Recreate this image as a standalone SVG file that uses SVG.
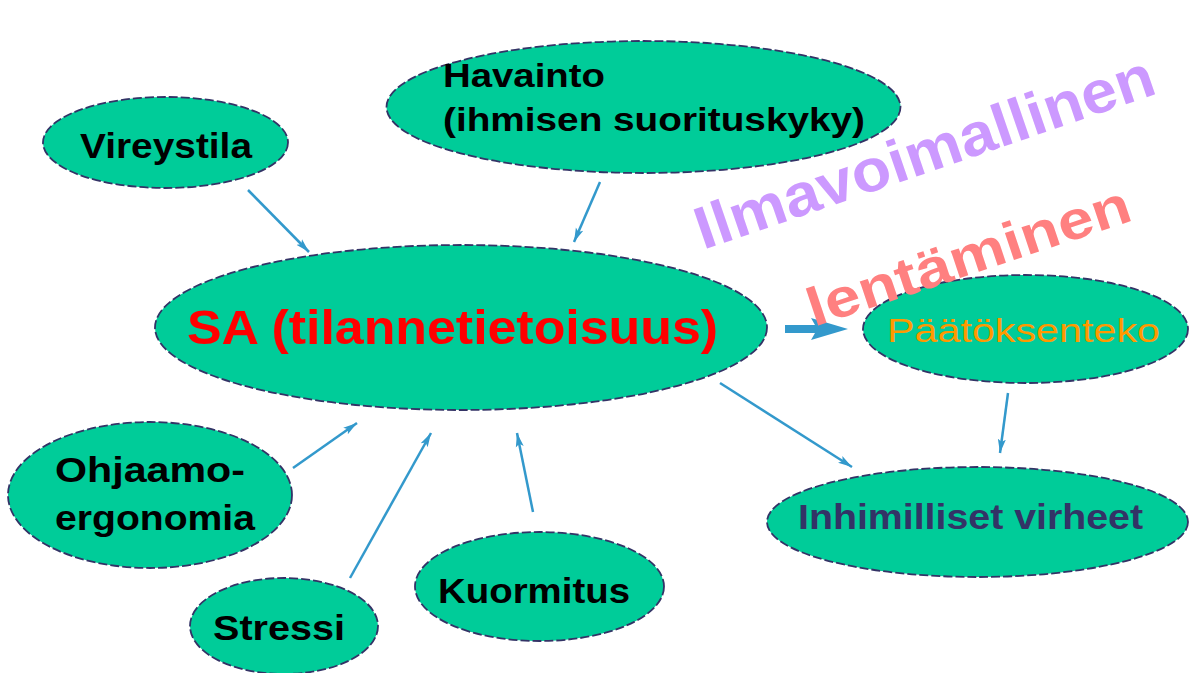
<svg xmlns="http://www.w3.org/2000/svg" width="1194" height="673" viewBox="0 0 1194 673">
<style>
.node ellipse{fill:#00cc99;stroke:#333366;stroke-width:1.8;stroke-dasharray:9 3}
.lbl{font-family:"Liberation Sans",Arial,sans-serif;font-weight:bold;fill:#000;font-size:34px}
.conn line{stroke:#3399cc;stroke-width:2.5;fill:none}
.wm{font-family:"Liberation Sans",Arial,sans-serif;font-weight:bold}
</style>
<defs>
<marker id="ah" markerUnits="userSpaceOnUse" markerWidth="16" markerHeight="10" refX="14" refY="5" orient="auto">
<path d="M0,1 L14,5 L0,9 L3,5 z" fill="#3399cc"/>
</marker>
</defs>
<rect width="1194" height="673" fill="#ffffff"/>
<g id="n-vireystila" class="node">
<ellipse cx="165.5" cy="142.5" rx="122.5" ry="45.5"/>
<text class="lbl" x="80" y="158" style="font-size:35px" textLength="172" lengthAdjust="spacingAndGlyphs">Vireystila</text>
</g>
<g id="n-havainto" class="node">
<ellipse cx="643.5" cy="107" rx="257" ry="66"/>
<text class="lbl" x="443" y="87" style="font-size:34px" textLength="162" lengthAdjust="spacingAndGlyphs">Havainto</text>
<text class="lbl" x="443" y="131" style="font-size:34px" textLength="422" lengthAdjust="spacingAndGlyphs">(ihmisen suorituskyky)</text>
</g>
<g id="n-sa" class="node">
<ellipse cx="461" cy="327.5" rx="306" ry="82.5"/>
<text class="lbl" x="187" y="344" style="font-size:49px;fill:#ff0000" textLength="531" lengthAdjust="spacingAndGlyphs">SA (tilannetietoisuus)</text>
</g>
<g id="n-paatoksenteko" class="node">
<ellipse cx="1025.5" cy="329" rx="162.5" ry="54"/>
<text class="lbl" x="887" y="342" style="font-size:34px;font-weight:normal;fill:#ff9900" textLength="273" lengthAdjust="spacingAndGlyphs">Päätöksenteko</text>
</g>
<g id="n-inhimilliset" class="node">
<ellipse cx="977.5" cy="522" rx="210.5" ry="55"/>
<text class="lbl" x="798" y="529" style="font-size:35px;fill:#333366" textLength="345" lengthAdjust="spacingAndGlyphs">Inhimilliset virheet</text>
</g>
<g id="n-ohjaamo" class="node">
<ellipse cx="150" cy="495" rx="142" ry="73"/>
<text class="lbl" x="55" y="482" style="font-size:35px" textLength="190" lengthAdjust="spacingAndGlyphs">Ohjaamo-</text>
<text class="lbl" x="55" y="530" style="font-size:35px" textLength="200" lengthAdjust="spacingAndGlyphs">ergonomia</text>
</g>
<g id="n-stressi" class="node">
<ellipse cx="284" cy="626" rx="94" ry="48"/>
<text class="lbl" x="213" y="640" style="font-size:35px" textLength="132" lengthAdjust="spacingAndGlyphs">Stressi</text>
</g>
<g id="n-kuormitus" class="node">
<ellipse cx="539.5" cy="586.5" rx="124.5" ry="54.5"/>
<text class="lbl" x="438" y="603" style="font-size:35px" textLength="192" lengthAdjust="spacingAndGlyphs">Kuormitus</text>
</g>
<g id="connectors" class="conn">
<line x1="248" y1="190" x2="309" y2="252" marker-end="url(#ah)"/>
<line x1="600" y1="182" x2="574" y2="242" marker-end="url(#ah)"/>
<line x1="720" y1="383" x2="852" y2="467" marker-end="url(#ah)"/>
<line x1="1008" y1="393" x2="1000" y2="453" marker-end="url(#ah)"/>
<line x1="293" y1="468" x2="357" y2="423" marker-end="url(#ah)"/>
<line x1="350" y1="578" x2="431" y2="433" marker-end="url(#ah)"/>
<line x1="533" y1="512" x2="517" y2="433" marker-end="url(#ah)"/>
<polygon points="785,325 815,325 811,318 848,329 811,340 815,333 785,333" fill="#3399cc"/>
</g>
<g id="watermark">
<text class="wm" transform="translate(703,250) rotate(-19)" font-size="60" fill="#cc99ff" textLength="482" lengthAdjust="spacingAndGlyphs">Ilmavoimallinen</text>
<text class="wm" transform="translate(814,327) rotate(-18.5)" font-size="54" fill="#ff8080" textLength="338" lengthAdjust="spacingAndGlyphs">lentäminen</text>
</g>
</svg>
